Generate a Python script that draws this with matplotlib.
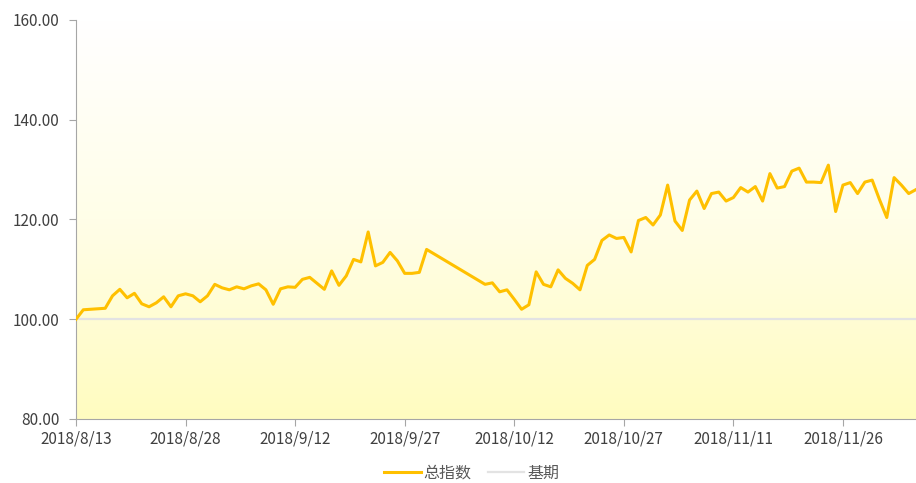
import numpy as np
import pandas as pd
import matplotlib
matplotlib.use('Agg')
import matplotlib.pyplot as plt
from matplotlib.colors import LinearSegmentedColormap

plt.rcParams['font.family'] = ['Noto Sans CJK SC', 'DejaVu Sans']

# daily index values, 2018/8/13 - 2018/12/6, no data during 10/1 - 10/7
start_date = '2018-08-13'
end_date = '2018-12-06'
holiday = ('2018-10-01', '2018-10-07')

values_before_holiday = [
    100.0, 101.9, 102.0, 102.1, 102.2, 104.7, 106.0, 104.3, 105.2, 103.1,
    102.5, 103.3, 104.5, 102.5, 104.7, 105.1, 104.7, 103.5, 104.7, 107.0,
    106.3, 105.9, 106.5, 106.1, 106.7, 107.1, 105.9, 103.0, 106.1, 106.5,
    106.4, 108.0, 108.4, 107.2, 106.0, 109.7, 106.8, 108.7, 112.0, 111.5,
    117.5, 110.7, 111.4, 113.4, 111.7, 109.2, 109.2, 109.4, 114.0,
]
values_after_holiday = [
    107.0, 107.3, 105.5, 105.9, 104.0, 102.0, 102.9, 109.5, 107.0, 106.5,
    109.9, 108.2, 107.2, 105.9, 110.8, 112.0, 115.8, 116.9, 116.2, 116.4,
    113.5, 119.8, 120.4, 118.9, 120.9, 126.9, 119.7, 117.8, 123.9, 125.7,
    122.2, 125.2, 125.5, 123.7, 124.4, 126.4, 125.5, 126.6, 123.7, 129.2,
    126.3, 126.6, 129.7, 130.3, 127.5, 127.5, 127.4, 130.9, 121.6, 126.9,
    127.4, 125.2, 127.5, 127.9, 124.0, 120.4, 128.4, 126.9, 125.2, 126.0,
]
base_value = 100.0
y_ticks = [80, 100, 120, 140, 160]

dates = pd.date_range(start_date, end_date)
dates = dates[~((dates >= holiday[0]) & (dates <= holiday[1]))]
total_index = pd.Series(values_before_holiday + values_after_holiday, index=dates)

fig = plt.figure(figsize=(9.16, 4.83), dpi=100)
ax = fig.add_axes([76 / 916, 1 - 419 / 483, 840 / 916, 399 / 483])

# plot area gradient: white at top, pale yellow at bottom
cmap = LinearSegmentedColormap.from_list('bg', ['#FFFCC0', '#FFFEE8', '#FFFFFF'])
grad = np.linspace(0, 1, 256).reshape(-1, 1)
ax.imshow(grad, extent=[0, 1, 0, 1], transform=ax.transAxes, aspect='auto',
          cmap=cmap, origin='lower', zorder=0)

x0 = pd.Timestamp(start_date)
x1 = pd.Timestamp(end_date)
ax.plot([x0, x1], [base_value, base_value], color='#E3E3E3', lw=1.6, label='基期', zorder=2)
ax.plot(total_index.index, total_index.values, color='#FFC000', lw=2.2, label='总指数', zorder=3)

ax.set_xlim(x0, x1)
ax.set_ylim(80, 160)
ax.set_yticks(y_ticks)
ax.set_yticklabels(['%.2f' % v for v in y_ticks])
ticks = pd.date_range(start_date, end_date, freq='15D')
ax.set_xticks(ticks)
ax.set_xticklabels(['%d/%d/%d' % (d.year, d.month, d.day) for d in ticks])

for side in ['top', 'right']:
    ax.spines[side].set_visible(False)
for side in ['left', 'bottom']:
    ax.spines[side].set_color('#A6A6A6')
ax.tick_params(axis='both', colors='#A6A6A6', labelcolor='#404040', labelsize=11, length=5)
ax.tick_params(axis='x', pad=3)
ax.tick_params(axis='y', pad=7)

handles, labels = ax.get_legend_handles_labels()
fig.legend(handles[::-1], labels[::-1], loc='center', bbox_to_anchor=(0.515, 1 - 473 / 483),
           ncol=2, frameon=False, fontsize=11.5, handlelength=2.3, columnspacing=1.0,
           handletextpad=0.2, labelcolor='#595959')

fig.savefig('out.png', dpi=100)
